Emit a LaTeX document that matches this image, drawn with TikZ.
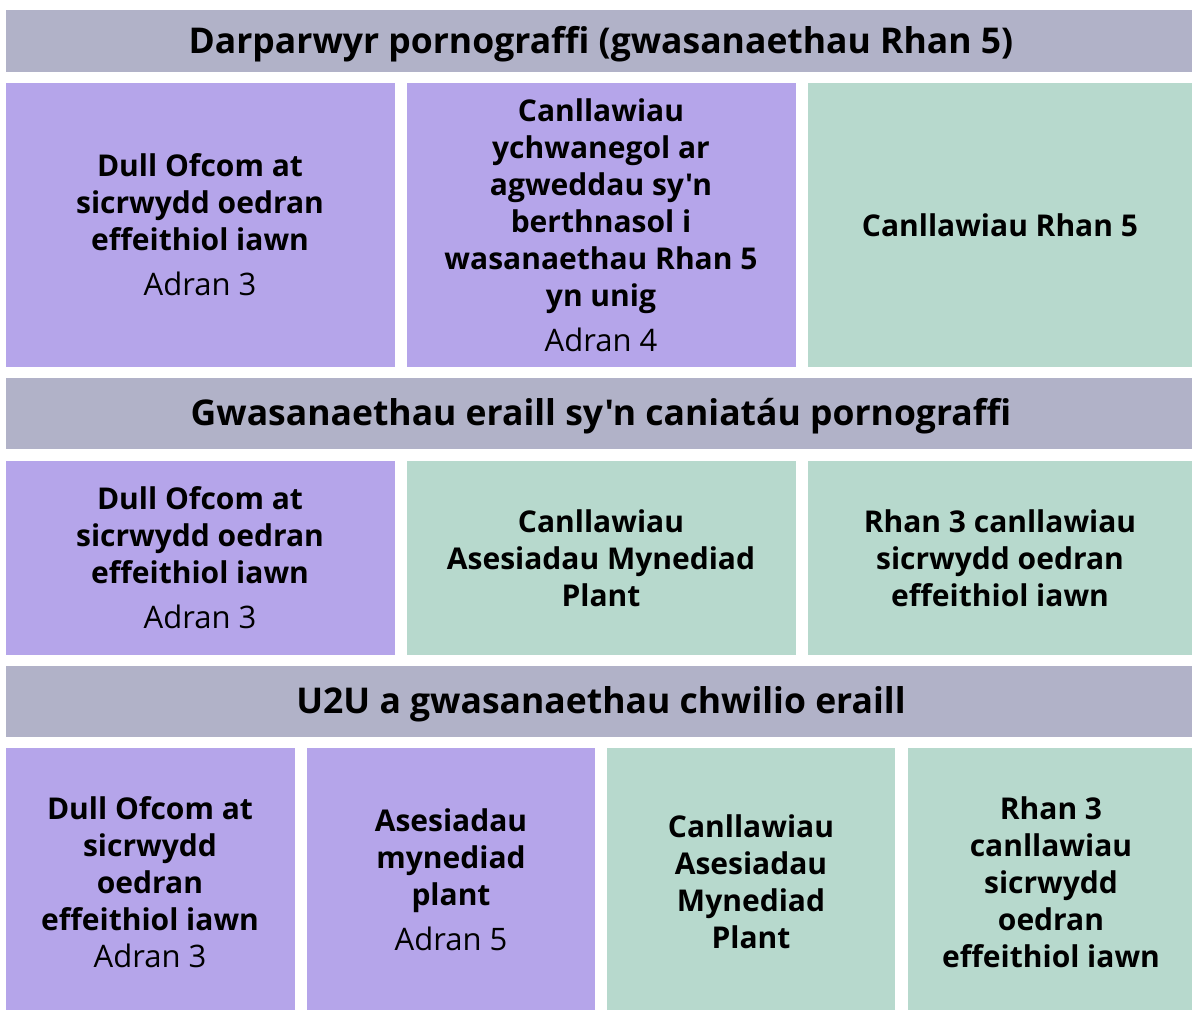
\documentclass[tikz,border=0pt]{standalone}
\usepackage{fontspec}
\newfontfamily\bodyfont[Ligatures=NoCommon]{Open Sans}
\definecolor{hdr}{RGB}{177,178,200}
\definecolor{pur}{RGB}{181,165,234}
\definecolor{grn}{RGB}{183,217,205}
\newcommand\adr[1]{{\fontsize{31}{37}\selectfont\mdseries #1}}
\begin{document}
\begin{tikzpicture}[x=1pt,y=-1pt,
  box/.style={draw=none,inner sep=0pt,align=center,font=\bodyfont\fontsize{30}{37}\selectfont\bfseries},
  hbar/.style={draw=none,inner sep=0pt,anchor=base,font=\bodyfont\fontsize{35.5}{40}\selectfont\bfseries}]
\useasboundingbox[fill=white] (0,0) rectangle (1192,1010);
% headers
\fill[hdr] (6,10) rectangle (1192,72);
\node[hbar] (h1) at (601,53) {Darparwyr pornograffi (gwasanaethau Rhan 5)};
\fill[hdr] (6,378) rectangle (1192,449);
\node[hbar] (h2) at (601,425) {Gwasanaethau eraill sy'n caniatáu pornograffi};
\fill[hdr] (6,666) rectangle (1192,737);
\node[hbar] (h3) at (601,713) {U2U a gwasanaethau chwilio eraill};
% row 1
\fill[pur] (6,83) rectangle (395,367);
\fill[pur] (407,83) rectangle (796,367);
\fill[grn] (808,83) rectangle (1192,367);
\node[box] (a1) at (200,225) {Dull Ofcom at\\sicrwydd oedran\\effeithiol iawn\\[8pt]\adr{Adran 3}};
\node[box] (a2) at (601,225) {Canllawiau\\ychwanegol ar\\agweddau sy'n\\berthnasol i\\wasanaethau Rhan 5\\yn unig\\[8pt]\adr{Adran 4}};
\node[box] (a3) at (1000,225) {Canllawiau Rhan 5};
% row 2
\fill[pur] (6,461) rectangle (395,655);
\fill[grn] (407,461) rectangle (796,655);
\fill[grn] (808,461) rectangle (1192,655);
\node[box] (b1) at (200,558) {Dull Ofcom at\\sicrwydd oedran\\effeithiol iawn\\[8pt]\adr{Adran 3}};
\node[box] (b2) at (601,558) {Canllawiau\\Asesiadau Mynediad\\Plant};
\node[box] (b3) at (1000,558) {Rhan 3 canllawiau\\sicrwydd oedran\\effeithiol iawn};
% row 3
\fill[pur] (6,748) rectangle (295,1010);
\fill[pur] (307,748) rectangle (595,1010);
\fill[grn] (607,748) rectangle (895,1010);
\fill[grn] (908,748) rectangle (1192,1010);
\node[box] (c1) at (150,882) {Dull Ofcom at\\sicrwydd\\oedran\\effeithiol iawn\\\adr{Adran 3}};
\node[box] (c2) at (451,880) {Asesiadau\\mynediad\\plant\\[8pt]\adr{Adran 5}};
\node[box] (c3) at (751,882) {Canllawiau\\Asesiadau\\Mynediad\\Plant};
\node[box] (c4) at (1051,882) {Rhan 3\\canllawiau\\sicrwydd\\oedran\\effeithiol iawn};
\end{tikzpicture}
\end{document}
